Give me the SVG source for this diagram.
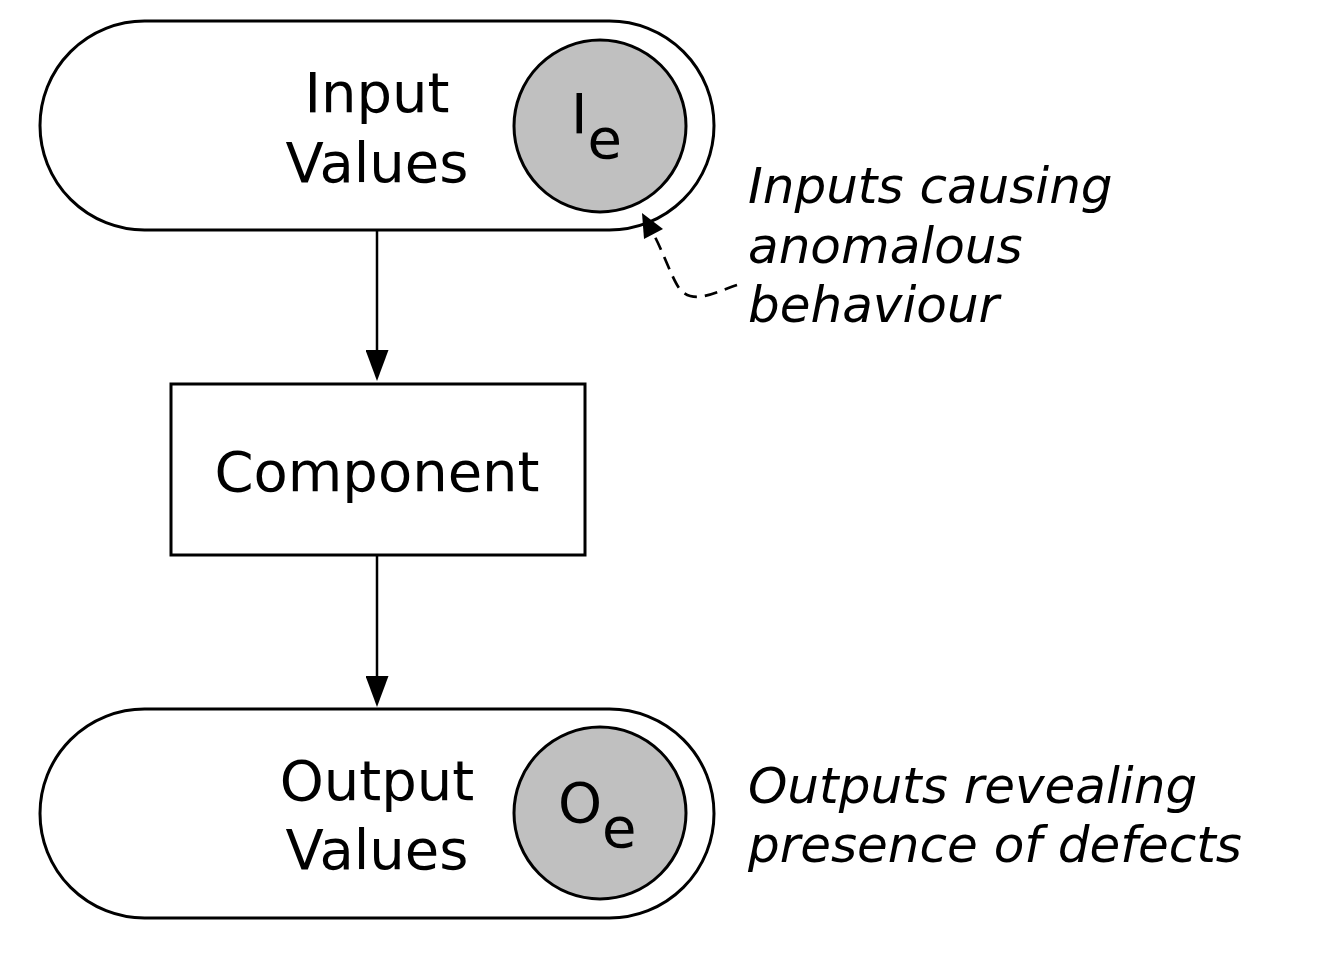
<svg xmlns="http://www.w3.org/2000/svg" width="1330" height="956" viewBox="0 0 1330 956">
<defs>
<style>
.shape{fill:#fff;stroke:#000;stroke-width:3}
.dot{fill:#c0c0c0;stroke:#000;stroke-width:3}
.lbl{font-family:"DejaVu Sans","Liberation Sans",sans-serif;font-size:56px;fill:#000}
.note{font-family:"DejaVu Sans","Liberation Sans",sans-serif;font-size:50px;font-style:italic;fill:#000}
.edge{fill:none;stroke:#000;stroke-width:2.5}
.dash{fill:none;stroke:#000;stroke-width:2.7;stroke-dasharray:13 8}
.head{fill:#000;stroke:none}
</style>
<marker id="arr" viewBox="0 0 31 23" markerWidth="31" markerHeight="23" markerUnits="userSpaceOnUse" refX="0" refY="11.5" orient="auto">
<path d="M0,0 L31,11.5 L0,23 z" fill="#000"/>
</marker>
</defs>
<rect width="1330" height="956" fill="#fff"/>
<g id="input-values">
<rect class="shape" x="40" y="21" width="674" height="209" rx="104.5" ry="104.5"/>
<text class="lbl" x="377" y="112" text-anchor="middle">Input</text>
<text class="lbl" x="377" y="182" text-anchor="middle">Values</text>
</g>
<g id="ie">
<circle class="dot" cx="600" cy="126" r="86"/>
<text class="lbl" x="571" y="133">I<tspan dy="25">e</tspan></text>
</g>
<g id="component">
<rect class="shape" x="171" y="384" width="414" height="171"/>
<text class="lbl" x="377" y="491" text-anchor="middle">Component</text>
</g>
<g id="output-values">
<rect class="shape" x="40" y="709" width="674" height="209" rx="104.5" ry="104.5"/>
<text class="lbl" x="377" y="800" text-anchor="middle">Output</text>
<text class="lbl" x="377" y="869" text-anchor="middle">Values</text>
</g>
<g id="oe">
<circle class="dot" cx="600" cy="813" r="86"/>
<text class="lbl" x="558" y="822">O<tspan dy="25">e</tspan></text>
</g>
<g id="note-inputs">
<text class="note" x="748" y="203">Inputs causing</text>
<text class="note" x="748" y="263">anomalous</text>
<text class="note" x="748" y="322">behaviour</text>
</g>
<g id="note-outputs">
<text class="note" x="748" y="803">Outputs revealing</text>
<text class="note" x="748" y="862">presence of defects</text>
</g>
<g id="connectors">
<path class="edge" d="M377 231 V350" marker-end="url(#arr)"/>
<path class="edge" d="M377 556 V676" marker-end="url(#arr)"/>
<path class="dash" d="M737 285 C715 292, 693 306, 679 288 C672 278, 663 252, 654 235"/>
<polygon class="head" points="642,213 663,229 644,239"/>
</g>
</svg>
